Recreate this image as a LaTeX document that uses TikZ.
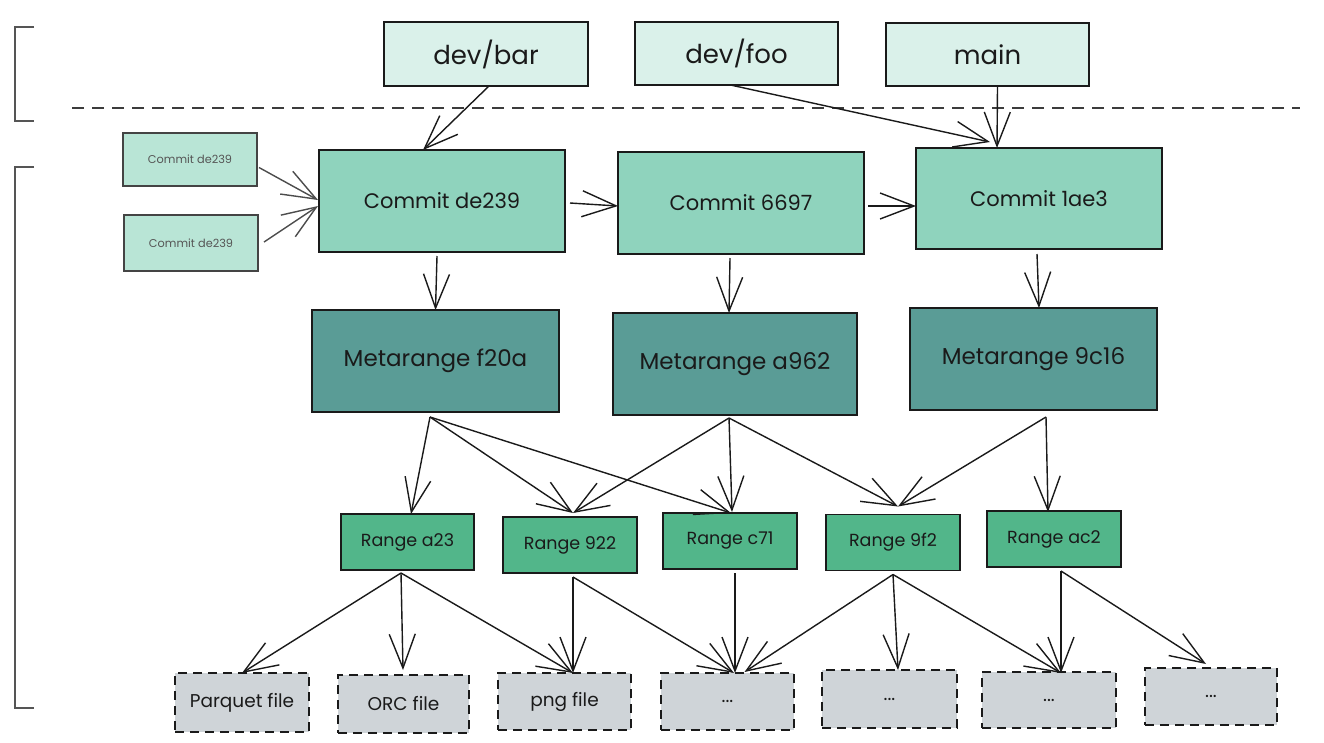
\documentclass[tikz,border=0pt]{standalone}
\usepackage{fontspec}
\setmainfont{Poppins}
\usetikzlibrary{arrows.meta,calc}
\definecolor{branchfill}{HTML}{DAF1EA}
\definecolor{smallfill}{HTML}{B9E5D6}
\definecolor{commitfill}{HTML}{8FD3BD}
\definecolor{metafill}{HTML}{5A9C96}
\definecolor{rangefill}{HTML}{52B68A}
\definecolor{filefill}{HTML}{CFD4D8}
\definecolor{ink}{HTML}{1A1A1A}
\definecolor{graytxt}{HTML}{555555}
\tikzset{
  box/.style={draw=ink, line width=1.7pt, rectangle, inner sep=0pt, outer sep=0pt, text=ink, align=center},
  branchbox/.style={box, fill=branchfill, font=\fontsize{26}{29}\selectfont},
  smallbox/.style={box, draw=graytxt!80!black, line width=1.3pt, fill=smallfill, text=graytxt, font=\fontsize{11.3}{13}\selectfont},
  commitbox/.style={box, fill=commitfill, minimum width=246pt, minimum height=102pt, font=\fontsize{21}{25}\selectfont},
  metabox/.style={box, fill=metafill, minimum width=246pt, minimum height=102pt, font=\fontsize{23}{27}\selectfont},
  rangebox/.style={box, fill=rangefill, minimum width=134pt, minimum height=56pt, font=\fontsize{17.5}{20}\selectfont},
  filebox/.style={box, fill=filefill, dash pattern=on 9pt off 6pt, minimum width=133pt, minimum height=58pt, font=\fontsize{18.5}{21}\selectfont},
  arr/.style={draw=ink, line width=1.4pt, -{Straight Barb[length=34pt,width=26pt,line width=1.4pt]}},
  grayarr/.style={arr, draw=graytxt!90!black},
  bracket/.style={draw=graytxt, line width=1.3pt},
}
\begin{document}
\begin{tikzpicture}[x=1pt,y=-1pt]
\useasboundingbox (0,0) rectangle (1324,742);
\fill[white] (0,0) rectangle (1324,742);
% brackets and separator
\draw[bracket] (34,27) -- (15,27) -- (15,121) -- (34,121);
\draw[bracket] (34,167) -- (15,167) -- (15,708) -- (34,708);
\draw[draw=ink!85, line width=1.8pt, dash pattern=on 12pt off 8pt] (72,108) -- (1300,108);
% branches
\node[branchbox, minimum width=204pt, minimum height=64pt] (devbar) at (486,54) {dev/bar};
\node[branchbox, minimum width=203pt, minimum height=63pt] (devfoo) at (736.5,53.5) {dev/foo};
\node[branchbox, minimum width=203pt, minimum height=63pt] (main) at (987.5,54.5) {main};
% small commits
\node[smallbox, minimum width=134pt, minimum height=53pt] (s1) at (190,159.5) {Commit de239};
\node[smallbox, minimum width=134pt, minimum height=56pt] (s2) at (191,243) {Commit de239};
% commits
\node[commitbox] (c1) at (442,201) {Commit de239};
\node[commitbox] (c2) at (741,203) {Commit 6697};
\node[commitbox, minimum height=101pt] (c3) at (1039,198.5) {Commit 1ae3};
% metaranges
\node[metabox, minimum width=247pt] (m1) at (435.5,361) {Metarange f20a};
\node[metabox, minimum width=244pt] (m2) at (735,364) {Metarange a962};
\node[metabox, minimum width=247pt] (m3) at (1033.5,359) {Metarange 9c16};
% ranges
\node[rangebox, minimum width=133pt] (r1) at (407.5,542) {Range a23};
\node[rangebox] (r2) at (570,545) {Range 922};
\node[rangebox] (r3) at (730,541) {Range c71};
\node[rangebox] (r4) at (893,542.5) {Range 9f2};
\node[rangebox] (r5) at (1054,539) {Range ac2};
% files
\node[filebox, minimum width=134pt, minimum height=59pt] (f1) at (242,702.5) {Parquet file};
\node[filebox, minimum width=131pt] (f2) at (403.5,704) {ORC file};
\node[filebox, minimum height=57pt] (f3) at (564.5,701.5) {png file};
\node[filebox, minimum height=57pt] (f4) at (727.5,701.5) {...};
\node[filebox, minimum width=135pt] (f5) at (889.5,699) {...};
\node[filebox, minimum width=134pt, minimum height=56pt] (f6) at (1049,700) {...};
\node[filebox, minimum width=132pt, minimum height=57pt] (f7) at (1211,696.5) {...};
% branch -> commit
\draw[arr] ($(devbar.south)+(3,0)$) -- ($(c1.north)+(-19,0)$);
\draw[arr] ($(devfoo.south)+(-6,0)$) -- ($(c3.north)+(-49,-6)$);
\draw[arr] ($(main.south)+(10,0)$) -- ($(c3.north)+(-42,0)$);
% parents
\draw[grayarr] ($(s1.east)+(2,8)$) -- ($(c1.west)+(-1,-1)$);
\draw[grayarr] ($(s2.east)+(6,-1)$) -- ($(c1.west)+(-1,5)$);
\draw[arr] ($(c1.east)+(5,2)$) -- ($(c2.west)+(0,3)$);
\draw[arr] ($(c2.east)+(4,3)$) -- ($(c3.west)+(0,7.5)$);
% commit -> metarange
\draw[arr] ($(c1.south)+(-5,4)$) -- (m1.north);
\draw[arr] ($(c2.south)+(-11,4)$) -- ($(m2.north)+(-6,0)$);
\draw[arr] ($(c3.south)+(-2,5)$) -- ($(m3.north)+(5.5,0)$);
% metarange -> range
\coordinate (m1o) at ($(m1.south)+(-5.5,5)$);
\coordinate (m2o) at ($(m2.south)+(-6,3)$);
\coordinate (m3o) at ($(m3.south)+(12.5,7)$);
\draw[arr] (m1o) -- ($(r1.north)+(3.5,0)$);
\draw[arr] (m1o) -- ($(r2.north)+(3,-4)$);
\draw[arr] (m1o) -- ($(r3.north)+(1,0)$);
\draw[arr] (m2o) -- ($(r2.north)+(3,-4)$);
\draw[arr] (m2o) -- ($(r3.north)+(2,-1)$);
\draw[arr] (m2o) -- ($(r4.north)+(5,-8)$);
\draw[arr] (m3o) -- ($(r4.north)+(5,-8)$);
\draw[arr] (m3o) -- ($(r5.north)+(-6,1)$);
% range -> file
\coordinate (r1o) at ($(r1.south)+(-6.5,3)$);
\coordinate (r2o) at ($(r2.south)+(3,4)$);
\coordinate (r3o) at ($(r3.south)+(5,4)$);
\coordinate (r4o) at ($(r4.south)+(0,4)$);
\coordinate (r5o) at ($(r5.south)+(7,4)$);
\draw[arr] (r1o) -- (f1.north);
\draw[arr] (r1o) -- ($(f2.north)+(-0.5,-5)$);
\draw[arr] (r1o) -- ($(f3.north)+(8.5,0)$);
\draw[arr] (r2o) -- ($(f3.north)+(8.5,0)$);
\draw[arr] (r2o) -- ($(f4.north)+(6.5,0)$);
\draw[arr] (r3o) -- ($(f4.north)+(7.5,0)$);
\draw[arr] (r4o) -- ($(f4.north)+(17,-1)$);
\draw[arr] (r4o) -- ($(f5.north)+(8.5,0)$);
\draw[arr] (r4o) -- ($(f6.north)+(12,1)$);
\draw[arr] (r5o) -- ($(f6.north)+(12,1)$);
\draw[arr] (r5o) -- ($(f7.north)+(-5,-4)$);
\end{tikzpicture}
\end{document}
